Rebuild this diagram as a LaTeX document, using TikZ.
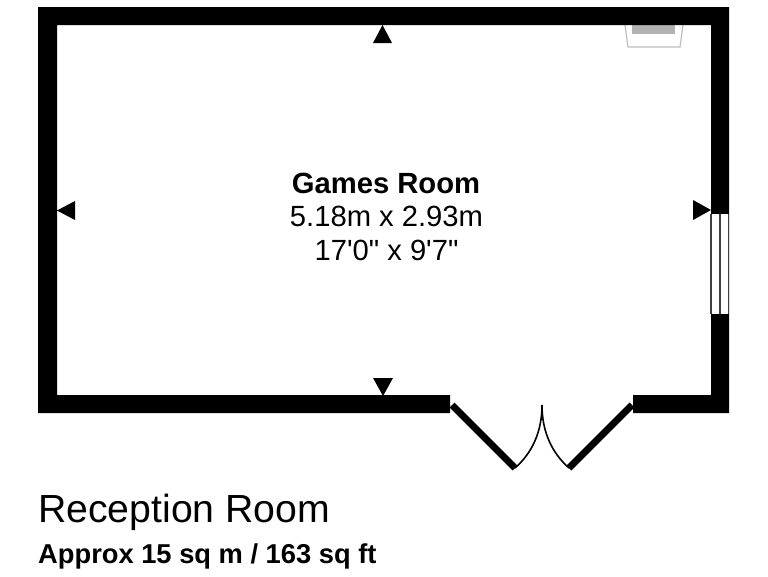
\documentclass[tikz,border=0pt]{standalone}
\usepackage{fontspec}
\newfontfamily\planfont{Liberation Sans}

\begin{document}
\begin{tikzpicture}[x=1pt, y=-1pt,
    wallfill/.style={fill=black, draw=none},
    marker/.style={fill=black, draw=none},
    leaf/.style={draw=black, line width=7pt},
    swing/.style={draw=black, line width=1.6pt},
    glass/.style={draw=black!75, line width=1.8pt},
    fixture/.style={draw=black!25, line width=1.2pt, fill=white},
    roomtext/.style={inner sep=0pt, anchor=base, font=\planfont\fontsize{29.2}{32}\selectfont},
    titletext/.style={inner sep=0pt, anchor=base west, font=\planfont\fontsize{39.2}{42}\selectfont},
    areatext/.style={inner sep=0pt, anchor=base west, font=\planfont\bfseries\fontsize{27.3}{30}\selectfont}]

  \useasboundingbox (0, 0) rectangle (768, 576);

  %% chimney breast, under the wall
  \draw[fixture] (625, 25) -- (628, 47) -- (680, 47) -- (683, 25);
  \fill[black!30] (632, 25) rectangle (675, 34);

  %% walls, with the gap for the doors
  \path[wallfill] (450, 413) -- (38, 413) -- (38, 7) -- (729, 7) -- (729, 413) -- (633, 413)
  -- (633, 395) -- (711, 395) -- (711, 25) -- (57, 25) -- (57, 395) -- (450, 395) -- cycle;

  %% window
  \fill[white] (711, 214) rectangle (729, 314);
  \foreach \wx in {711, 720, 728.5}
    \draw[glass] (\wx, 214) -- (\wx, 314);

  %% doors
  \coordinate (leftHinge) at (452, 405);
  \coordinate (rightHinge) at (632, 405);
  \coordinate (leftTip) at (515, 468);
  \coordinate (rightTip) at (569, 468);
  \coordinate (meet) at (542, 405);
  \draw[leaf] (leftHinge) -- (leftTip);
  \draw[leaf] (rightHinge) -- (rightTip);
  \draw[swing] (leftTip) .. controls (532, 453) and (542, 432) .. (meet);
  \draw[swing] (rightTip) .. controls (552, 453) and (542, 432) .. (meet);

  %% measuring marks
  \path[marker] (382.5, 25) -- (392, 43) -- (373, 43) -- cycle;
  \path[marker] (383, 396) -- (393, 378) -- (373, 378) -- cycle;
  \path[marker] (57, 210.5) -- (75, 201) -- (75, 220) -- cycle;
  \path[marker] (711, 210) -- (693, 200) -- (693, 220) -- cycle;

  %% labels
  \node[roomtext, font=\planfont\bfseries\fontsize{29.2}{32}\selectfont] (roomName) at (386, 193) {Games Room};
  \node[roomtext] (roomMetric) at (386.5, 226) {5.18m x 2.93m};
  \node[roomtext] (roomImperial) at (386.5, 260) {17'0" x 9'7"};
  \node[titletext] (planTitle) at (38, 522) {Reception Room};
  \node[areatext] (planArea) at (38, 563) {Approx 15 sq m / 163 sq ft};

\end{tikzpicture}
\end{document}
